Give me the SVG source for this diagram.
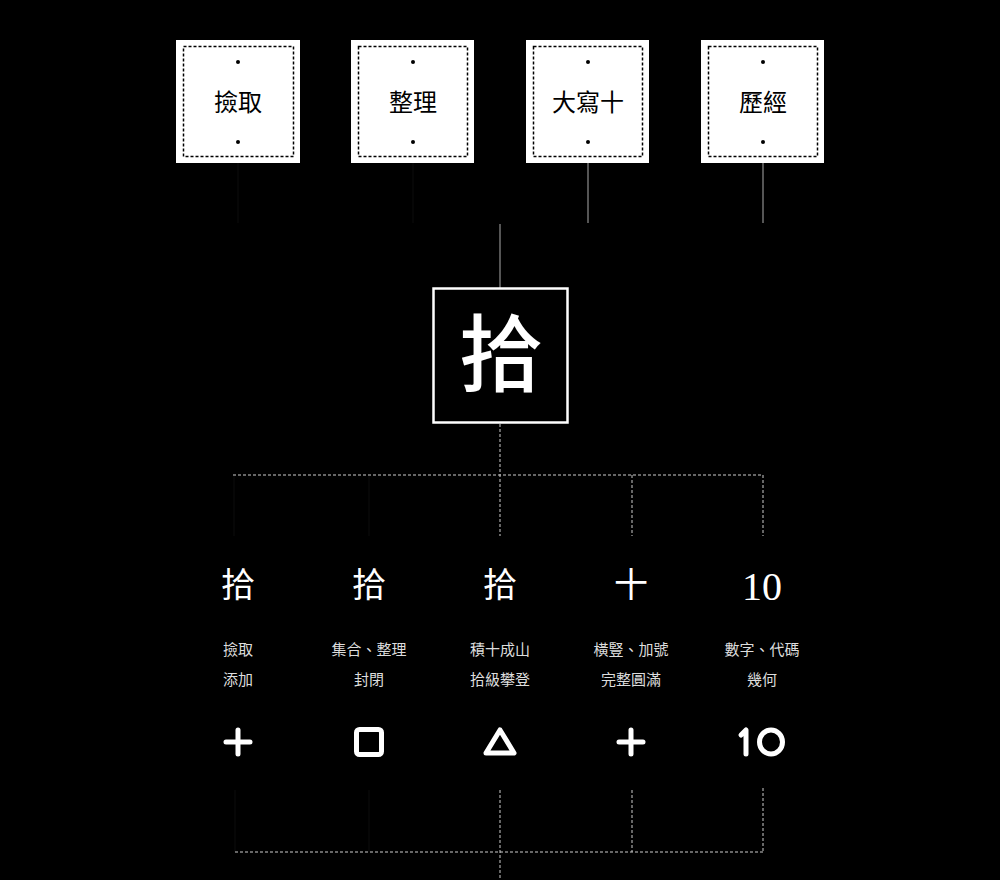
<svg xmlns="http://www.w3.org/2000/svg" width="1000" height="880" viewBox="0 0 1000 880">
<style>
.card{fill:#fff}
.inner{fill:none;stroke:#000;stroke-width:1.5;stroke-dasharray:3 2}
.dot{fill:#000}
.ctxt{font-family:"Noto Sans CJK TC","Noto Sans CJK SC",serif;font-size:24px;fill:#000;text-anchor:middle}
.solid{stroke:#aaa;stroke-width:1;fill:none}
.dash{stroke:#ccc;stroke-width:1;fill:none;stroke-dasharray:3 2}
.faint{stroke:#0d0d0d;stroke-width:1;fill:none}
.big{font-family:"Noto Sans CJK TC","Noto Sans CJK SC",serif;font-size:34px;fill:#fff;text-anchor:middle}
.num{font-family:"Liberation Serif","DejaVu Serif",serif;font-size:40px;fill:#fff;text-anchor:middle}
.desc{font-family:"Noto Sans CJK TC","Noto Sans CJK SC",sans-serif;font-size:15px;fill:#ddd;text-anchor:middle}
.icon{stroke:#fff;stroke-width:5;fill:none;stroke-linecap:round;stroke-linejoin:round}
</style>
<rect width="1000" height="880" fill="#000"/>
<g id="connectors">
<line class="faint" x1="238" y1="163" x2="238" y2="223"/>
<line class="faint" x1="413" y1="163" x2="413" y2="223"/>
<line class="solid" x1="588" y1="163" x2="588" y2="223"/>
<line class="solid" x1="763" y1="163" x2="763" y2="223"/>
<line class="solid" x1="500" y1="224" x2="500" y2="288"/>
<line class="dash" x1="500" y1="424" x2="500" y2="536"/>
<line class="dash" x1="233" y1="475" x2="763" y2="475"/>
<line class="faint" x1="234" y1="476" x2="234" y2="536"/>
<line class="faint" x1="369" y1="476" x2="369" y2="536"/>
<line class="dash" x1="632" y1="475" x2="632" y2="536"/>
<line class="dash" x1="763" y1="475" x2="763" y2="536"/>
<line class="faint" x1="235" y1="790" x2="235" y2="852"/>
<line class="faint" x1="369" y1="790" x2="369" y2="852"/>
<line class="dash" x1="500" y1="790" x2="500" y2="880"/>
<line class="dash" x1="632" y1="790" x2="632" y2="852"/>
<line class="dash" x1="763" y1="788" x2="763" y2="852"/>
<line class="dash" x1="235" y1="852" x2="763" y2="852"/>
</g>
<g id="card-jianqu">
<rect class="card" x="176" y="40" width="124" height="123"/>
<rect class="inner" x="183.5" y="46.5" width="110" height="110"/>
<circle class="dot" cx="238" cy="62" r="2"/>
<circle class="dot" cx="238" cy="142" r="2"/>
<text class="ctxt" x="238" y="111">撿取</text>
</g>
<g id="card-zhengli">
<rect class="card" x="351" y="40" width="123" height="123"/>
<rect class="inner" x="358.5" y="46.5" width="109" height="110"/>
<circle class="dot" cx="413" cy="62" r="2"/>
<circle class="dot" cx="413" cy="142" r="2"/>
<text class="ctxt" x="413" y="111">整理</text>
</g>
<g id="card-daxie">
<rect class="card" x="526" y="40" width="123" height="123"/>
<rect class="inner" x="533.5" y="46.5" width="109" height="110"/>
<circle class="dot" cx="588" cy="62" r="2"/>
<circle class="dot" cx="588" cy="142" r="2"/>
<text class="ctxt" x="588" y="111">大寫十</text>
</g>
<g id="card-lijing">
<rect class="card" x="701" y="40" width="123" height="123"/>
<rect class="inner" x="708.5" y="46.5" width="109" height="110"/>
<circle class="dot" cx="763" cy="62" r="2"/>
<circle class="dot" cx="763" cy="142" r="2"/>
<text class="ctxt" x="763" y="111">歷經</text>
</g>
<g id="center">
<rect x="433.5" y="288.5" width="134" height="134" fill="#000" stroke="#fff" stroke-width="2.5"/>
<text x="501" y="385" font-family="Noto Sans CJK TC, serif" font-size="84" font-weight="500" fill="#fff" text-anchor="middle">拾</text>
</g>
<g id="col1">
<text class="big" x="238" y="597">拾</text>
<text class="desc" x="238" y="655">撿取</text>
<text class="desc" x="238" y="685">添加</text>
<path class="icon" d="M238 730 V754 M226 742 H250"/>
</g>
<g id="col2">
<text class="big" x="369" y="597">拾</text>
<text class="desc" x="369" y="655">集合、整理</text>
<text class="desc" x="369" y="685">封閉</text>
<rect class="icon" x="356.5" y="729.5" width="25" height="25" rx="3"/>
</g>
<g id="col3">
<text class="big" x="500" y="597">拾</text>
<text class="desc" x="500" y="655">積十成山</text>
<text class="desc" x="500" y="685">拾級攀登</text>
<path class="icon" d="M500 730 L514 753 H486 Z"/>
</g>
<g id="col4">
<text class="big" x="631" y="597">十</text>
<text class="desc" x="631" y="655">橫豎、加號</text>
<text class="desc" x="631" y="685">完整圓滿</text>
<path class="icon" d="M631 730 V754 M619 742 H643"/>
</g>
<g id="col5">
<text class="num" x="762" y="600">10</text>
<text class="desc" x="762" y="655">數字、代碼</text>
<text class="desc" x="762" y="685">幾何</text>
<path class="icon" d="M741 735 L746 730 V754"/>
<ellipse class="icon" cx="771" cy="742" rx="11.5" ry="12"/>
</g>
</svg>
